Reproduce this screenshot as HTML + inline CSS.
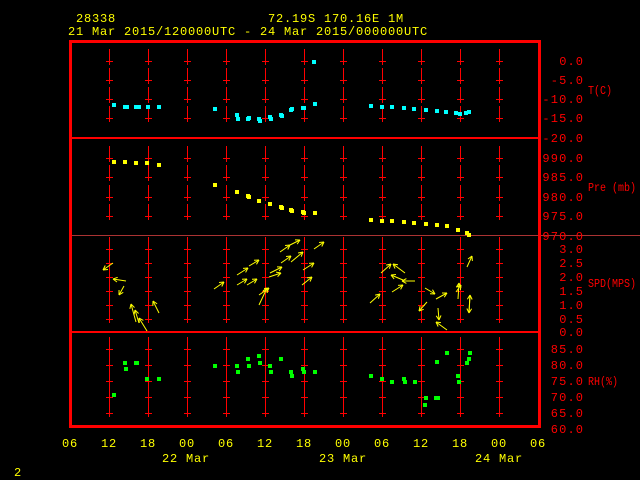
<!DOCTYPE html>
<html><head><meta charset="utf-8"><style>
html,body{margin:0;padding:0;background:#000;width:640px;height:480px;overflow:hidden}
svg{display:block}
text{font-family:"Liberation Mono","DejaVu Sans Mono",monospace;font-size:12px}
.w{letter-spacing:0.8px}
</style></head><body>
<svg id="s" width="640" height="480" xmlns="http://www.w3.org/2000/svg">
<g fill="#ffff00" class="w">
<text x="76" y="22" class="w">28338</text>
<text x="268" y="22" class="w">72.19S  170.16E     1M</text>
<text x="68" y="35" class="w">21 Mar 2015/120000UTC - 24 Mar 2015/000000UTC</text>
<text x="14" y="476">2</text>
<text x="162" y="462" class="w">22 Mar</text>
<text x="319" y="462" class="w">23 Mar</text>
<text x="475" y="462" class="w">24 Mar</text>
</g>
<g id="grid" stroke="#ff0000" stroke-width="1" shape-rendering="crispEdges"></g>
<g stroke="#ff0000" stroke-width="2" fill="none" shape-rendering="crispEdges">
<line x1="70" y1="138" x2="540" y2="138"/>
<line x1="70" y1="332" x2="540" y2="332"/>
</g>
<line x1="70" y1="235.5" x2="640" y2="235.5" stroke="#aa3333" stroke-width="1" shape-rendering="crispEdges"/>
<rect x="70.5" y="41.5" width="469" height="385" fill="none" stroke="#ff0000" stroke-width="3"/>
<g id="lab" fill="#ff0000" text-anchor="end"></g>
<g fill="#ff0000">
<text x="588" y="94" textLength="24" lengthAdjust="spacingAndGlyphs">T(C)</text>
<text x="588" y="191" textLength="48" lengthAdjust="spacingAndGlyphs">Pre (mb)</text>
<text x="588" y="287" textLength="48" lengthAdjust="spacingAndGlyphs">SPD(MPS)</text>
<text x="588" y="385" textLength="30" lengthAdjust="spacingAndGlyphs">RH(%)</text>
</g>
<g id="xl" fill="#ffff00" text-anchor="middle" class="w"></g>
<g id="pts"></g>
<g id="arr" stroke="#ffff00" stroke-width="1" fill="none"></g>
</svg>
<script>
const NS="http://www.w3.org/2000/svg";
function el(p,t,a,txt){const e=document.createElementNS(NS,t);for(const k in a)e.setAttribute(k,a[k]);if(txt!=null)e.textContent=txt;document.getElementById(p).appendChild(e);return e;}
const xs=[109,148,187,226,265,304,343,382,421,460,499];
const ticks=[61,80,99,118,158,177,197,216,249,263,277,291,305,319,349,365,381,397,413];
xs.forEach(x=>ticks.forEach(y=>{el("grid","line",{x1:x+.5,y1:y-12,x2:x+.5,y2:y+4});el("grid","line",{x1:x-3,y1:y+.5,x2:x+4,y2:y+.5});}));
const labs=[[61,"0.0"],[80,"-5.0"],[99,"-10.0"],[118,"-15.0"],[138,"-20.0"],[158,"990.0"],[177,"985.0"],[197,"980.0"],[216,"975.0"],[236,"970.0"],[249,"3.0"],[263,"2.5"],[277,"2.0"],[291,"1.5"],[305,"1.0"],[319,"0.5"],[332,"0.0"],[349,"85.0"],[365,"80.0"],[381,"75.0"],[397,"70.0"],[413,"65.0"],[429,"60.0"]];
labs.forEach(([y,t])=>el("lab","text",{x:583,y:y+4,textLength:t.length*8.4-1.4,lengthAdjust:"spacing"},t));
const hl=["06","12","18","00","06","12","18","00","06","12","18","00","06"];
hl.forEach((t,i)=>el("xl","text",{x:70+39*i,y:447},t));
function pts(arr,c){arr.forEach(([x,y])=>el("pts","rect",{x:x-2,y:y-2,width:4,height:4,fill:c}));}
pts([[114,105],[125,107],[127,107],[136,107],[139,107],[148,107],[159,107],[215,109],[237,115],[238,119],[248,119],[249,118],[259,119],[260,121],[270,117],[271,119],[281,115],[282,116],[291,110],[292,109],[303,108],[304,108],[315,104],[314,62],[371,106],[382,107],[392,107],[404,108],[414,109],[426,110],[437,111],[446,112],[456,113],[460,114],[466,113],[469,112]],"#00ffff");
pts([[114,162],[125,162],[136,163],[147,163],[159,165],[215,185],[237,192],[248,196],[249,197],[259,201],[270,204],[281,207],[282,208],[291,210],[292,211],[303,212],[304,213],[315,213],[371,220],[382,221],[392,221],[404,222],[414,223],[426,224],[437,225],[447,226],[458,230],[467,233],[469,235]],"#ffff00");
pts([[114,395],[125,363],[126,369],[136,363],[137,363],[147,379],[159,379],[215,366],[237,366],[238,372],[248,359],[249,366],[259,356],[260,363],[270,366],[271,372],[281,359],[291,372],[292,376],[303,369],[304,372],[315,372],[371,376],[382,379],[392,382],[404,379],[405,382],[415,382],[426,398],[425,405],[436,398],[438,398],[437,362],[447,353],[458,376],[459,382],[467,363],[469,359],[470,353]],"#00ff00");
const A=[[113,263,103,270],[126,281,113,279],[124,286,119,295],[136,322,131,304],[139,323,135,310],[147,331,139,318],[159,313,153,301],
[214,289,224,282],[237,275,248,268],[249,266,259,260],[237,285,247,279],[247,285,257,279],[259,305,267,288],[259,295,269,288],[269,277,281,273],[270,273,282,267],[280,252,290,245],[290,245,300,240],[281,263,291,256],[291,262,303,252],[303,270,314,263],[302,285,312,277],[314,249,324,242],
[381,273,391,264],[370,303,380,294],[405,273,393,264],[403,280,391,275],[415,281,402,281],[392,292,403,285],[425,288,435,294],[436,299,447,293],[427,302,419,311],[438,308,439,320],[447,330,436,322],[458,299,459,283],[456,292,461,285],[467,267,472,256],[470,295,469,313],[469,313,470,295]];
A.forEach(([x1,y1,x2,y2])=>{el("arr","line",{x1,y1,x2,y2});const a=Math.atan2(y2-y1,x2-x1);[0.5,-0.5].forEach(d=>{const b=a+Math.PI+d;el("arr","line",{x1:x2,y1:y2,x2:x2+5*Math.cos(b),y2:y2+5*Math.sin(b)});});});
</script>
</body></html>
